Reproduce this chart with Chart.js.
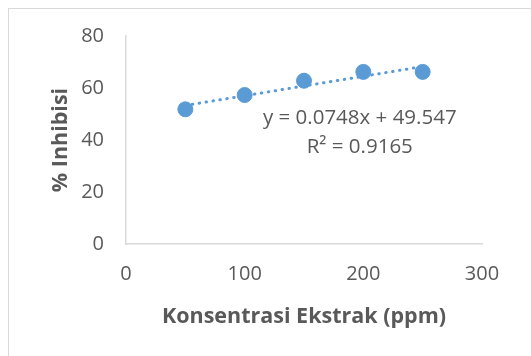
<!DOCTYPE html>
<html><head><meta charset="utf-8">
<script src="https://cdn.jsdelivr.net/npm/chart.js@4/dist/chart.umd.min.js"></script>
<style>
html,body{margin:0;padding:0;background:#fff;}
#wrap{position:relative;width:531px;height:356px;overflow:hidden;}
#frame{position:absolute;left:8px;top:8px;width:600px;height:400px;border:1px solid #d9d9d9;box-sizing:border-box;}
canvas{position:absolute;left:0;top:0;}
</style></head>
<body><div id="wrap"><div id="frame"></div><canvas id="c" width="531" height="356"></canvas></div>
<script>
const concentrations = [50, 100, 150, 200, 250];
const inhibition = [51.8, 57.3, 62.8, 66.2, 66.2];
const slope = 0.0748;
const intercept = 49.547;
const equationText = "y = 0.0748x + 49.547";
const r2Text = "R² = 0.9165";
const xTicks = [0, 100, 200, 300];
const yTicks = [0, 20, 40, 60, 80];

const points = concentrations.map((x, i) => ({x, y: inhibition[i]}));
const xFirst = concentrations[0], xLast = concentrations[concentrations.length - 1];
const trend = [{x: xFirst, y: intercept + slope * xFirst}, {x: xLast, y: intercept + slope * xLast}];

const FONT = "'Open Sans', sans-serif";
const GREY = '#595959';
const BLUE = '#5B9BD5';

const eqPlugin = {
  id: 'eq',
  afterDatasetsDraw(chart) {
    const {ctx, scales: {x, y}} = chart;
    ctx.save();
    ctx.fillStyle = GREY;
    ctx.font = "20.5px " + FONT;
    ctx.textAlign = 'center';
    ctx.textBaseline = 'middle';
    ctx.fillText(equationText, x.getPixelForValue(197), y.getPixelForValue(48.5));
    ctx.fillText(r2Text, x.getPixelForValue(197), y.getPixelForValue(37.3));
    ctx.restore();
  }
};

new Chart(document.getElementById('c'), {
  type: 'scatter',
  data: {
    datasets: [
      {data: trend, showLine: true, borderColor: BLUE, borderWidth: 3, borderDash: [0.5, 6.5], borderCapStyle: 'round', pointRadius: 0, order: 2},
      {data: points, backgroundColor: BLUE, borderColor: BLUE, pointRadius: 7.5, pointHoverRadius: 7.5, order: 1}
    ]
  },
  options: {
    responsive: false, animation: false,
    layout: {padding: {left: 44, right: 49, top: 36, bottom: 22}},
    plugins: {legend: {display: false}, tooltip: {enabled: false}},
    scales: {
      x: {
        type: 'linear', min: 0, max: 300,
        afterBuildTicks: s => { s.ticks = xTicks.map(v => ({value: v})); },
        afterFit: s => { s.height = 90; },
        grid: {display: false, drawTicks: false},
        border: {display: true, color: '#d9d9d9', width: 1.5},
        ticks: {color: GREY, font: {family: FONT, size: 20}, padding: 18, maxRotation: 0},
        title: {display: true, text: 'Konsentrasi Ekstrak (ppm)', color: GREY, font: {family: FONT, size: 21.5, weight: 'bold'}, padding: {top: 0}}
      },
      y: {
        min: 0, max: 80,
        afterBuildTicks: s => { s.ticks = yTicks.map(v => ({value: v})); },
        afterFit: s => { s.width = 82; },
        grid: {display: false, drawTicks: false},
        border: {display: true, color: '#d9d9d9', width: 1.5},
        ticks: {color: GREY, font: {family: FONT, size: 20}, padding: 22},
        title: {display: true, text: '% Inhibisi', color: GREY, font: {family: FONT, size: 21.5, weight: 'bold'}, padding: {bottom: 6}}
      }
    }
  },
  plugins: [eqPlugin]
});
</script></body></html>
